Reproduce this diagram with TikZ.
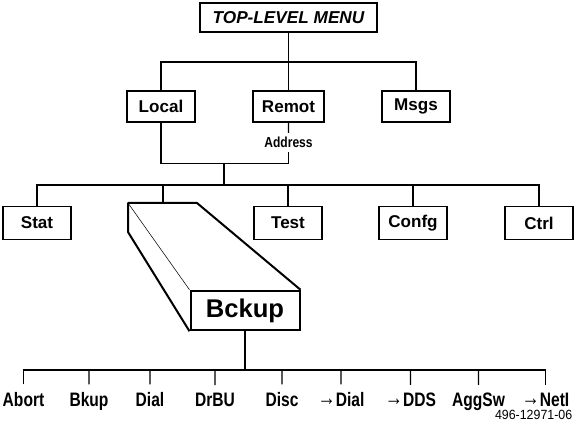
\documentclass[tikz,border=0pt]{standalone}
\usepackage{fontspec}
\setmainfont{Liberation Sans}
\usepackage{tikz}

\tikzset{
  menubox/.style={draw, line width=0.9pt, inner sep=0pt, minimum width=51pt, minimum height=23.25pt, font=\fontsize{12.8}{15}\selectfont\bfseries},
  leaflabel/.style={anchor=base, inner sep=6pt, font=\fontsize{14.6}{17}\selectfont\bfseries, xscale=0.8},
  treeline/.style={line width=0.8pt},
}
\newcommand{\toarrow}{\raisebox{1.2pt}{\mdseries\fontsize{17}{17}\selectfont →}}

\begin{document}
\begin{tikzpicture}[x=0.75pt,y=0.75pt,yscale=-1,xscale=1]
\useasboundingbox (0,0) rectangle (574,434);

%Shape: top menu box
\node [menubox, minimum width=132.75pt, minimum height=21.75pt, font=\fontsize{12.9}{15}\selectfont\bfseries\itshape] (topmenu) at (288.5,17.5) {TOP-LEVEL MENU};

%Shape: second row
\node [menubox] (local) at (161,106.5) {Local};
\node [menubox, minimum width=53.25pt] (remot) at (288.5,106.5) {Remot};
\node [menubox] (msgs) at (416,106.5) {Msgs};

\coordinate (busA) at (288.5,62);
\draw [treeline] (topmenu) -- (busA);
\draw [treeline] (local) |- (busA) -| (msgs);
\draw [treeline] (busA) -- (remot);

% Text Node
\node [anchor=base, inner sep=3pt, font=\fontsize{10.9}{13}\selectfont\bfseries, xscale=0.83] (addr) at (288.5,147.7) {Address};
\draw [treeline] (remot) -- (addr);

\coordinate (busB) at (224,163.3);
\coordinate (busC) at (224,185);
\draw [treeline] (local) |- (busB);
\draw [treeline] (addr) |- (busB);
\draw [treeline] (busB) -- (busC);

%Shape: third row
\node [menubox, minimum height=24.75pt] (stat) at (37,223) {Stat};
\node [menubox, minimum height=24.75pt] (test) at (288,223) {Test};
\node [menubox, minimum height=24.75pt] (confg) at (413,223) {Confg};
\node [menubox, minimum height=24.75pt] (ctrl) at (539,223) {Ctrl};

\draw [treeline] (stat) |- (busC) -| (ctrl);
\draw [treeline] (test) -- (test |- busC);
\draw [treeline] (confg) -- (confg |- busC);

%Shape: Bckup block
\node [draw, line width=1.5pt, inner sep=0pt, minimum width=81.75pt, minimum height=29.6pt, font=\fontsize{19.2}{22}\selectfont\bfseries] (bckup) at (245,310.5) {Bckup};
\coordinate (backL) at (128,203);
\coordinate (backR) at (197,203);
\coordinate (sideL) at (128,232);
\coordinate (bckupTop) at (163,203);
\draw [line width=1.5pt, line join=round] (bckup.south west) -- (sideL) -- (backL) -- (backR) -- (bckup.north east);
\draw [line width=0.4pt] (backL) -- (bckup.north west);
\draw [treeline] (bckupTop) -- (bckupTop |- busC);

%Shape: bottom row
\coordinate (busD) at (245,370);
\draw [treeline] (bckup) -- (busD);

% Text Node
\node [leaflabel] (abort) at (23.5,406.7) {Abort};
% Text Node
\node [leaflabel] (bkup) at (89,406.7) {Bkup};
% Text Node
\node [leaflabel] (dial) at (150,406.7) {Dial};
% Text Node
\node [leaflabel] (drbu) at (215,406.7) {DrBU};
% Text Node
\node [leaflabel] (disc) at (282,406.7) {Disc};
% Text Node
\node [leaflabel] (todial) at (341,406.7) {\toarrow Dial};
% Text Node
\node [leaflabel] (todds) at (410.5,406.7) {\toarrow DDS};
% Text Node
\node [leaflabel] (aggsw) at (478.5,406.7) {AggSw};
% Text Node
\node [leaflabel] (tonet) at (545.5,406.7) {\toarrow NetI};

\draw [treeline] (abort) |- (busD) -| (tonet);
\draw [treeline] (bkup) -- (bkup |- busD);
\draw [treeline] (dial) -- (dial |- busD);
\draw [treeline] (drbu) -- (drbu |- busD);
\draw [treeline] (disc) -- (disc |- busD);
\draw [treeline] (todial) -- (todial |- busD);
\draw [treeline] (todds) -- (todds |- busD);
\draw [treeline] (aggsw) -- (aggsw |- busD);

% Text Node
\node [anchor=base east, inner sep=0pt, font=\fontsize{10}{12}\selectfont, xscale=0.93] (figno) at (572.5,419.3) {496-12971-06};

\end{tikzpicture}
\end{document}
